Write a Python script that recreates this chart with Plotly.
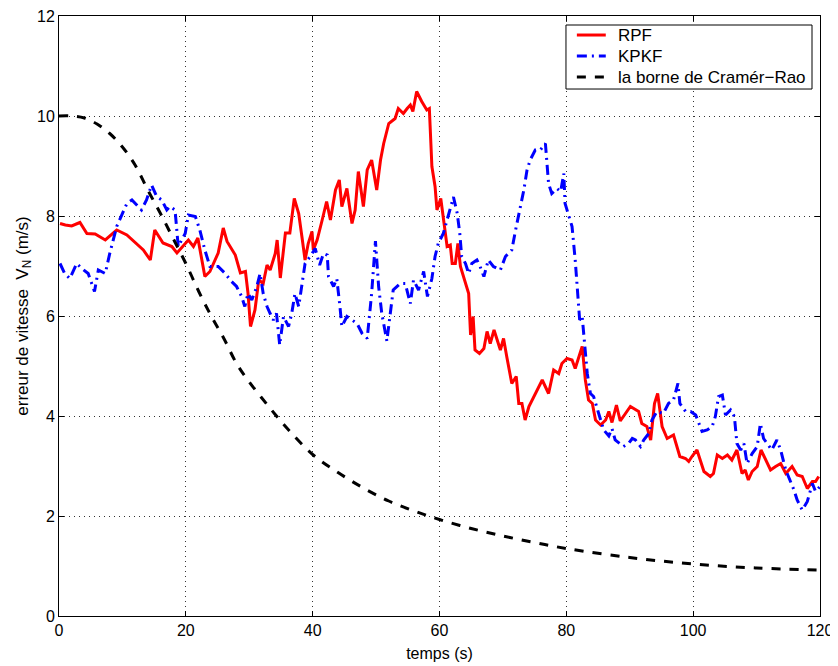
import plotly.graph_objects as go

# ---- data ----
rpf_t = [0.16, 1.0, 2.0, 3.3, 4.4, 5.7, 7.3, 9.1, 10.7, 12.0, 13.3, 14.4, 15.1, 16.4, 17.8, 18.6,
         20.4, 21.2, 21.9, 23.0, 23.8, 25.1, 25.9, 26.5, 27.8, 28.6, 29.4, 29.8, 30.2, 30.9, 31.5,
         32.2, 32.8, 33.3, 34.1, 34.4, 34.9, 35.7, 36.4, 37.1, 37.8, 38.3, 38.8, 39.3, 39.9, 40.1,
         40.7, 41.5, 42.2, 42.8, 43.6, 44.2, 44.6, 45.4, 46.2, 46.7, 47.2, 48.0, 48.6, 49.3, 50.1,
         50.7, 51.2, 52.0, 53.0, 53.5, 54.3, 54.9, 55.4, 55.8, 56.4, 57.2, 58.0, 58.4, 58.8, 59.3,
         59.6, 60.2, 60.6, 61.2, 61.7, 62.0, 62.5, 62.9, 63.3, 64.1, 64.6, 64.9, 65.3, 65.6, 66.3,
         67.0, 67.5, 68.0, 68.6, 69.6, 70.1, 70.6, 71.4, 72.1, 72.5, 73.0, 73.5, 74.1, 75.1, 76.2,
         77.2, 78.0, 78.8, 79.3, 80.1, 80.9, 81.4, 81.9, 82.5, 83.0, 83.5, 84.1, 84.6, 85.4, 86.2,
         86.7, 87.2, 87.9, 88.5, 90.1, 91.4, 91.9, 92.7, 93.3, 93.9, 94.4, 95.1, 95.9, 96.9, 97.9,
         98.8, 99.3, 99.8, 100.6, 101.7, 102.7, 103.2, 103.8, 104.6, 105.4, 106.1, 106.9, 107.7,
         108.2, 108.7, 109.3, 110.1, 110.7, 111.4, 112.2, 113.0, 113.8, 114.6, 115.6, 116.4, 117.2,
         118.0, 118.8, 119.3, 119.8]
rpf_v = [7.85, 7.82, 7.8, 7.87, 7.65, 7.64, 7.52, 7.72, 7.62, 7.46, 7.32, 7.12, 7.72, 7.46, 7.39, 7.26,
         7.52, 7.39, 7.56, 6.79, 6.89, 7.26, 7.76, 7.49, 7.22, 6.86, 6.89, 6.46, 5.79, 6.12, 6.72,
         6.65, 7.02, 6.92, 7.25, 7.52, 6.76, 7.66, 7.66, 8.35, 8.05, 7.59, 7.12, 7.45, 7.69, 7.32,
         7.52, 7.92, 8.29, 7.92, 8.52, 8.72, 8.19, 8.55, 7.85, 8.12, 8.89, 8.19, 8.92, 9.12, 8.52,
         9.12, 9.45, 9.85, 9.95, 10.15, 10.05, 10.15, 10.22, 10.09, 10.49, 10.29, 10.12, 10.15, 8.99, 8.59,
         8.12, 8.35, 7.92, 7.39, 7.42, 7.05, 7.05, 7.45, 6.99, 6.65, 6.45, 5.62, 5.99, 5.32, 5.25,
         5.35, 5.69, 5.45, 5.72, 5.32, 5.55, 5.19, 4.65, 4.79, 4.25, 4.25, 3.92, 4.19, 4.45, 4.72,
         4.45, 4.92, 4.85, 5.05, 5.15, 5.12, 4.95, 5.15, 5.39, 4.72, 4.32, 4.25, 3.92, 3.82, 3.92,
         4.09, 3.87, 4.22, 3.9, 4.19, 4.09, 3.85, 3.79, 3.52, 4.25, 4.45, 3.79, 3.55, 3.62, 3.19,
         3.15, 3.09, 3.19, 3.32, 2.89, 2.79, 2.85, 3.22, 3.15, 3.22, 3.12, 3.32, 2.85,
         2.92, 2.72, 2.89, 2.99, 3.32, 3.12, 2.92, 2.99, 3.05, 2.85, 2.99, 2.82, 2.79,
         2.55, 2.69, 2.69, 2.79]

kpkf_t = [0.16, 0.9, 1.7, 2.8, 3.6, 4.6, 5.6, 6.2, 7.3, 8.0, 9.1, 9.9, 10.7, 11.5, 12.3, 13.0, 13.8,
          14.6, 15.4, 16.2, 17.0, 17.5, 18.3, 18.8, 19.9, 20.4, 21.5, 22.2, 23.0, 23.8, 25.1, 26.2,
          27.2, 28.0, 28.8, 29.3, 29.8, 30.4, 31.2, 31.7, 32.2, 32.8, 33.3, 33.8, 34.3, 34.8, 35.4,
          36.2, 36.7, 37.2, 37.8, 38.3, 38.8, 39.6, 40.4, 41.1, 41.7, 42.3, 42.5, 43.3, 43.8, 44.3,
          44.6, 45.4, 46.2, 47.0, 47.8, 48.6, 49.3, 49.9, 50.4, 50.9, 51.7, 52.2, 52.7, 53.8, 54.6,
          55.4, 55.9, 56.7, 57.5, 58.1, 58.8, 59.3, 59.8, 60.6, 61.2, 61.7, 62.2, 62.8, 63.2, 63.5,
          64.1, 64.6, 65.1, 65.9, 66.4, 67.0, 67.7, 68.5, 69.6, 70.4, 71.4, 72.0, 72.7, 73.3, 73.8,
          74.3, 75.1, 75.9, 76.7, 77.0, 77.2, 77.7, 78.5, 79.1, 79.6, 79.8, 80.4, 80.9, 81.4, 81.7,
          82.1, 82.5, 83.0, 83.3, 83.8, 84.3, 85.1, 85.9, 86.7, 87.2, 87.7, 88.5, 89.0, 89.8, 90.4,
          90.9, 91.7, 92.2, 93.0, 93.5, 94.3, 95.3, 96.1, 96.9, 97.6, 97.9, 98.8, 99.6, 100.4, 101.4,
          102.2, 103.0, 103.5, 104.0, 104.6, 105.1, 105.9, 106.5, 106.9, 107.5, 108.0, 108.5, 109.3,
          110.1, 110.6, 111.1, 111.7, 112.4, 113.2, 113.8, 114.6, 115.3, 115.9, 116.4, 117.2, 118.0,
          118.8, 119.3, 120.0]
kpkf_v = [7.05, 6.85, 6.75, 7.05, 6.95, 6.85, 6.49, 6.92, 6.85, 7.25, 7.79, 8.02, 8.25, 8.32, 8.22, 8.12, 8.32,
          8.62, 8.39, 8.32, 8.12, 8.19, 8.12, 7.39, 7.65, 8.02, 7.99, 7.72, 7.32, 6.99, 6.99, 6.85,
          6.69, 6.59, 6.39, 6.19, 6.45, 6.32, 6.59, 6.85, 6.45, 6.19, 6.05, 5.92, 6.05, 5.42, 5.99,
          5.79, 6.05, 6.45, 6.19, 6.65, 7.05, 7.19, 7.35, 7.02, 7.25, 7.22, 6.79, 6.59, 6.75, 6.19,
          5.79, 5.99, 5.92, 5.85, 5.65, 5.55, 6.45, 7.5, 6.59, 6.05, 5.5, 6.05, 6.52, 6.65, 6.65,
          6.25, 6.72, 6.52, 6.89, 6.39, 6.75, 7.19, 7.45, 7.65, 7.92, 8.15, 8.38, 8.05, 7.65, 7.19,
          7.05, 6.85, 7.05, 7.12, 6.99, 6.79, 7.12, 6.99, 6.92, 7.19, 7.32, 7.72, 8.12, 8.52, 8.92,
          9.12, 9.32, 9.32, 9.45, 9.05, 8.65, 8.45, 8.55, 8.49, 8.85, 8.25, 8.02, 7.79, 7.12, 6.59,
          5.92, 5.99, 5.2, 4.85, 4.45, 4.39, 4.05, 3.72, 3.6, 3.75, 3.52, 3.45, 3.39, 3.45, 3.55,
          3.52, 3.39, 3.52, 3.65, 3.92, 4.09, 4.05, 4.25, 4.32, 4.65, 4.25, 4.09, 4.09, 4.02, 3.69,
          3.72, 3.79, 3.99, 4.39, 4.42, 4.02, 4.12, 3.99, 3.45, 3.32, 3.45, 3.05, 3.25,
          3.39, 3.85, 3.55, 3.45, 3.32, 3.52, 3.32, 2.92, 2.72, 2.52, 2.32, 2.12, 2.29,
          2.65, 2.49, 2.59]

crb_t = [0, 2, 4, 6, 8, 10, 12, 14, 16, 18, 20, 22, 24, 26, 28, 30, 33, 36, 40, 44, 48, 52, 56,
         60, 65, 70, 75, 80, 90, 100, 110, 120]
crb_v = [10.0, 10.0, 9.96, 9.84, 9.65, 9.38, 9.02, 8.52, 8.05, 7.55, 7.05, 6.5, 6.0, 5.55, 5.05,
         4.68, 4.2, 3.75, 3.23, 2.87, 2.56, 2.3, 2.1, 1.93, 1.75, 1.6, 1.47, 1.35, 1.17, 1.04, 0.96, 0.92]

x_ticks = [0, 20, 40, 60, 80, 100, 120]
y_ticks = [0, 2, 4, 6, 8, 10, 12]

series_names = ["RPF", "KPKF", "la borne de Cramér−Rao"]
series_colors = ["#ff0000", "#0000ff", "#000000"]
series_dash = ["solid", "10px,5px,2px,5px", "9px,9px"]

FONT = "Liberation Sans, Arial, Helvetica, sans-serif"

fig = go.Figure()
fig.add_trace(go.Scatter(x=rpf_t, y=rpf_v, mode="lines", name=series_names[0],
                         line=dict(color=series_colors[0], width=3, dash=series_dash[0])))
fig.add_trace(go.Scatter(x=kpkf_t, y=kpkf_v, mode="lines", name=series_names[1],
                         line=dict(color=series_colors[1], width=3, dash=series_dash[1])))
fig.add_trace(go.Scatter(x=crb_t, y=crb_v, mode="lines", name=series_names[2],
                         line=dict(color=series_colors[2], width=3, dash=series_dash[2], shape="spline")))

axis_common = dict(
    showline=True, linecolor="black", linewidth=1, mirror="ticks",
    ticks="inside", ticklen=5, tickcolor="black",
    showgrid=True, gridcolor="#333333", gridwidth=1, griddash="1px,4px",
    zeroline=False, tickfont=dict(family=FONT, size=16, color="black"),
    automargin=False, ticklabeloverflow="allow",
)

fig.update_xaxes(range=[0, 120], tickvals=x_ticks,
                 title=dict(text="temps (s)", font=dict(family=FONT, size=16, color="black"), standoff=9),
                 **axis_common)
fig.update_yaxes(range=[0, 12], tickvals=y_ticks,
                 title=dict(text="erreur de vitesse  V<sub>N</sub> (m/s)",
                            font=dict(family=FONT, size=17, color="black"), standoff=4),
                 **axis_common)

# ---- MATLAB-style legend box (drawn in the plot-area's paper coordinates) ----
box_x0, box_x1, box_y0, box_y1 = 0.6662, 0.9895, 0.8783, 0.985
row_y = [0.9683, 0.9333, 0.8983]
fig.add_shape(type="rect", xref="paper", yref="paper", x0=box_x0, x1=box_x1, y0=box_y0, y1=box_y1,
              line=dict(color="black", width=1), fillcolor="white", layer="above")
for name, col, dsh, yy in zip(series_names, series_colors, series_dash, row_y):
    fig.add_shape(type="line", xref="paper", yref="paper", x0=0.6805, x1=0.7185, y0=yy, y1=yy,
                  line=dict(color=col, width=3, dash=dsh), layer="above")
    fig.add_annotation(xref="paper", yref="paper", x=0.7315, y=yy, text=name, showarrow=False,
                       xanchor="left", yanchor="middle",
                       font=dict(family=FONT, size=17, color="black"))

fig.update_layout(
    width=830, height=658,
    margin=dict(l=51, r=18, t=8, b=50),
    paper_bgcolor="white", plot_bgcolor="white",
    font=dict(family=FONT, size=16, color="black"),
    showlegend=False,
)

fig.write_html("out.html")
